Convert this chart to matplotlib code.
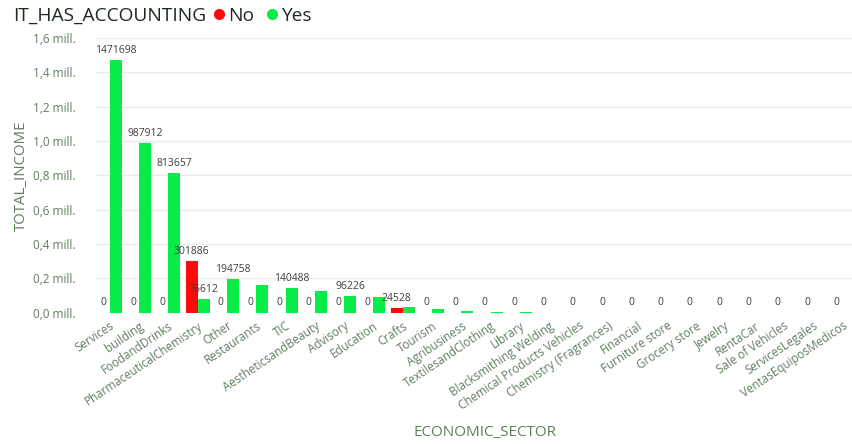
import matplotlib
matplotlib.use("Agg")
import matplotlib.pyplot as plt
from matplotlib.lines import Line2D
from matplotlib.ticker import FuncFormatter
import numpy as np

sectors = ["Services", "building", "FoodandDrinks", "PharmaceuticalChemistry", "Other",
           "Restaurants", "TIC", "AestheticsandBeauty", "Advisory", "Education", "Crafts",
           "Tourism", "Agribusiness", "TextilesandClothing", "Library", "Blacksmithing Welding",
           "Chemical Products Vehicles", "Chemistry (Fragrances)", "Financial", "Furniture store",
           "Grocery store", "Jewelry", "RentaCar", "Sale of Vehicles", "ServicesLegales",
           "VentasEquiposMedicos"]
income_no = [0, 0, 0, 301886, 0, 0, 0, 0, 0, 0, 24528, 0, 0, 0, 0, 0, 0, 0, 0, 0, 0, 0, 0, 0, 0, 0]
income_yes = [1471698, 987912, 813657, 76612, 194758, 158000, 140488, 125000, 96226, 93000,
              30000, 18000, 6000, 3000, 3000, 0, 0, 0, 0, 0, 0, 0, 0, 0, 0, 0]
# Yes labels that are visible in the original (others hidden by overlap)
yes_labelled = ["Services", "building", "FoodandDrinks", "PharmaceuticalChemistry",
                "Other", "TIC", "Advisory"]

RED = "#FF0A0A"
GREEN = "#08EC48"
TICK_C = "#5F7F5F"
LABEL_C = "#3E3E3E"
W, H = 852, 444

fig = plt.figure(figsize=(W / 100, H / 100), dpi=100)
plt.rcParams["font.family"] = ["Open Sans", "DejaVu Sans"]
ax = fig.add_axes([95 / W, (H - 312.5) / H, (W - 95) / W, 274.5 / H])

x = np.arange(len(sectors))
bw = 0.41
ax.bar(x - bw / 2, income_no, bw, color=RED, zorder=3)
ax.bar(x + bw / 2, income_yes, bw, color=GREEN, zorder=3)

for i, s in enumerate(sectors):
    ax.annotate(f"{income_no[i]}", (x[i] - bw / 2, income_no[i]), xytext=(0, 3),
                textcoords="offset points", ha="center", va="bottom", fontsize=7.5, color=LABEL_C)
    if s in yes_labelled:
        ax.annotate(f"{income_yes[i]}", (x[i] + bw / 2, income_yes[i]), xytext=(0, 3),
                    textcoords="offset points", ha="center", va="bottom", fontsize=7.5, color=LABEL_C)

ax.set_xlim(-0.5, (W - 110) / 29.3)
ax.set_ylim(0, 1.6e6)
ax.set_yticks(np.arange(0, 1.61e6, 0.2e6))
ax.yaxis.set_major_formatter(FuncFormatter(lambda v, p: f"{v / 1e6:.1f} mill.".replace(".", ",", 1)))
ax.grid(axis="y", color="#EBEBEB", linewidth=1, zorder=0)
for sp in ax.spines.values():
    sp.set_visible(False)
ax.tick_params(axis="both", length=0, colors=TICK_C)
ax.tick_params(axis="y", labelsize=8.5, pad=14)
ax.set_xticks(x)
ax.set_xticklabels(sectors, rotation=34, ha="right", rotation_mode="anchor", fontsize=8.4)
ax.tick_params(axis="x", pad=5)

ax.set_ylabel("TOTAL_INCOME", color=TICK_C, fontsize=10.8, labelpad=3)
fig.text(485 / W, 1 - 432 / H, "ECONOMIC_SECTOR", color=TICK_C, fontsize=11, ha="center", va="center")

fig.text(13 / W, 1 - 16 / H, "IT_HAS_ACCOUNTING", color="#1F2A1F", fontsize=13.8, ha="left", va="center")
handles = [Line2D([], [], marker="o", ls="", color=RED, markersize=7),
           Line2D([], [], marker="o", ls="", color=GREEN, markersize=7)]
fig.legend(handles, ["No", "Yes"], loc="center left", bbox_to_anchor=(213 / W, 1 - 16 / H),
           ncol=2, frameon=False, handlelength=0.6, handletextpad=0.2, columnspacing=0.6,
           fontsize=13.8, labelcolor="#1F2A1F", borderpad=0, borderaxespad=0)

fig.savefig("out.png", dpi=100)
